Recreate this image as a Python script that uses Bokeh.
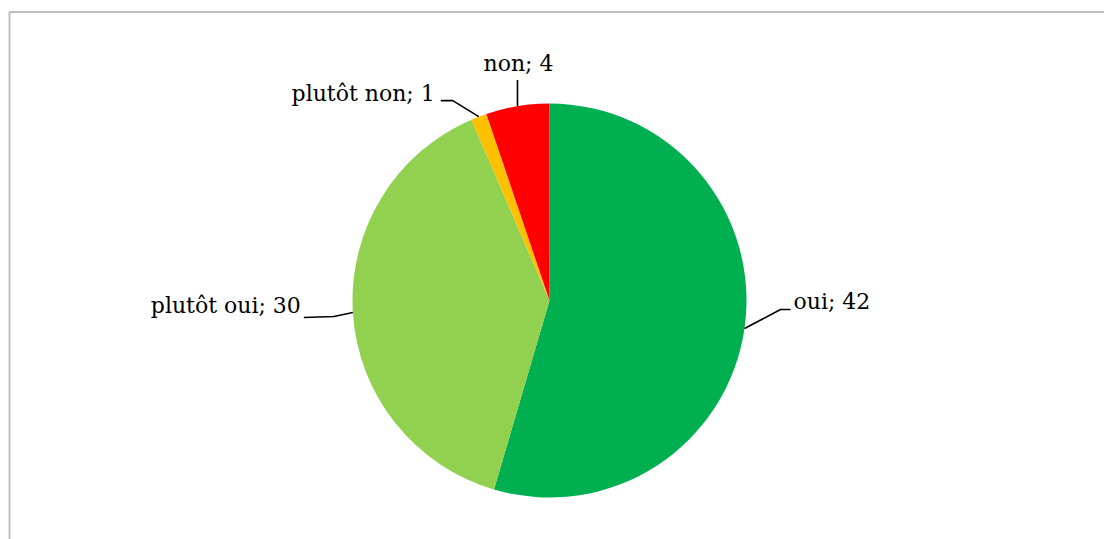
import math
from bokeh.plotting import figure
from bokeh.models import Range1d, BoxAnnotation, ColumnDataSource
from bokeh.core.properties import value
from bokeh.embed import file_html
from bokeh.resources import INLINE

# ---- data ----
categories = ["oui", "plutôt oui", "plutôt non", "non"]
counts = [42, 30, 1, 4]
colors = ["#00B050", "#92D050", "#FFC000", "#FF0000"]

# ---- layout ----
W, H = 1104, 539
CX, CY_S, R = 549, 300, 197
FONT = "DejaVu Serif"
FSIZE = "22px"
# per-label layout: elbow offset (from edge point, screen px), end point offset, text offset, alignment
label_layout = {
    "oui":        dict(elbow=(36, -19), end=(46, -19), text=(49, -27), align="left"),
    "plutôt oui": dict(elbow=(-19, 4), end=(-49, 5), text=(-52, -7), align="right"),
    "plutôt non": dict(elbow=(-26, -16), end=(-38, -16), text=(-44, -23), align="right"),
    "non":        dict(elbow=(0, -13), end=(0, -26), text=(1, -43), align="center"),
}

def to_data_y(ys):
    return H - ys

p = figure(width=W, height=H, output_backend="svg", toolbar_location=None,
           x_range=Range1d(0, W), y_range=Range1d(0, H),
           min_border=0, min_border_left=0, min_border_right=0,
           min_border_top=0, min_border_bottom=0)
p.axis.visible = False
p.grid.visible = False
p.outline_line_color = None
p.background_fill_color = "white"
p.border_fill_color = "white"

total = sum(counts)
starts, ends = [], []
cum = 0
for c in counts:
    a0 = math.pi / 2 - 2 * math.pi * cum / total
    cum += c
    a1 = math.pi / 2 - 2 * math.pi * cum / total
    starts.append(a0)
    ends.append(a1)

src = ColumnDataSource(dict(start=starts, end=ends, color=colors, cat=categories))
p.wedge(x=CX, y=to_data_y(CY_S), radius=R, start_angle="start", end_angle="end",
        direction="clock", fill_color="color", line_color=None, source=src)

# labels with leader lines
cum = 0
for cat, c in zip(categories, counts):
    mid = (cum + c / 2) / total
    cum += c
    th = 2 * math.pi * mid
    ex = CX + R * math.sin(th)
    ey = CY_S - R * math.cos(th)
    L = label_layout[cat]
    xs = [ex, ex + L["elbow"][0], ex + L["end"][0]]
    ys = [to_data_y(ey), to_data_y(ey + L["elbow"][1]), to_data_y(ey + L["end"][1])]
    p.line(xs, ys, line_color="black", line_width=1.6)
    p.text(x=[ex + L["text"][0]], y=[to_data_y(ey + L["text"][1])],
           text=[f"{cat}; {c}"], text_font=value(FONT), text_font_size=FSIZE,
           text_align=L["align"], text_baseline="middle", text_color="#000000")

# chart-area border (left and top visible)
p.add_layout(BoxAnnotation(left=9, right=W + 20, top=to_data_y(11.5), bottom=-20,
                           fill_color=None, fill_alpha=0, line_color="#BFBFBF",
                           line_alpha=1.0, line_width=2))

open("out.html", "w").write(file_html(p, INLINE))
